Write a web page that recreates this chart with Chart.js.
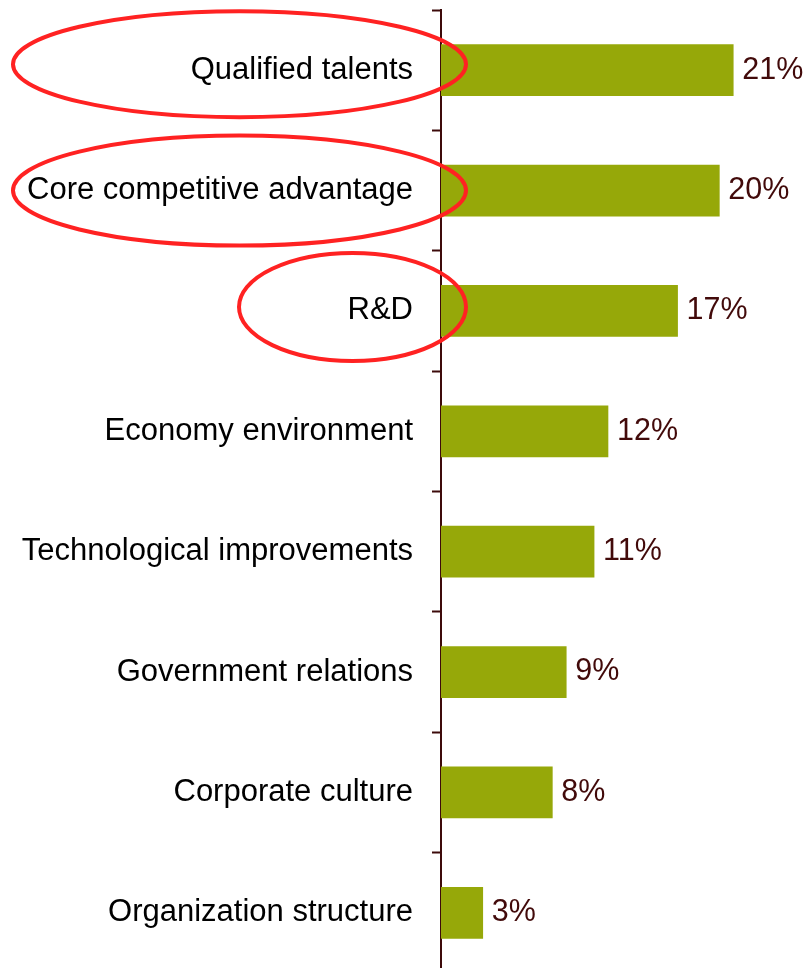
<!DOCTYPE html>
<html>
<head>
<meta charset="utf-8">
<script src="https://cdn.jsdelivr.net/npm/chart.js@4"></script>
<style>
  html, body { margin: 0; padding: 0; background: #ffffff; overflow: hidden; }
  #wrap { position: relative; width: 807px; height: 973px; }
</style>
</head>
<body>
<div id="wrap"><canvas id="chart"></canvas></div>
<script>
// Factors and the share of respondents naming each one (%)
const categories = [
  'Qualified talents',
  'Core competitive advantage',
  'R&D',
  'Economy environment',
  'Technological improvements',
  'Government relations',
  'Corporate culture',
  'Organization structure'
];
const shares = [21, 20, 17, 12, 11, 9, 8, 3];
const valueLabels = ['21%', '20%', '17%', '12%', '11%', '9%', '8%', '3%'];

// Red rings drawn around the top three factors
const highlightRings = [
  { category: 0, left: 13, dy: -6, ry: 53 },
  { category: 1, left: 13, dy: 0, ry: 55 },
  { category: 2, left: 239, dy: -4, ry: 54 }
];

const FONT = '"Liberation Sans", Arial, sans-serif';
const AXIS_COLOR = '#3d0a0a';
const BAR_COLOR = '#96a809';
const VALUE_COLOR = '#420a0a';

const valueLabelPlugin = {
  id: 'valueLabels',
  afterDatasetsDraw(chart) {
    const ctx = chart.ctx;
    const meta = chart.getDatasetMeta(0);
    ctx.save();
    ctx.font = '30.5px ' + FONT;
    ctx.fillStyle = VALUE_COLOR;
    ctx.textAlign = 'left';
    ctx.textBaseline = 'middle';
    meta.data.forEach((bar, i) => {
      ctx.fillText(valueLabels[i], bar.x + 9, bar.y);
    });
    ctx.restore();
  }
};

const ringPlugin = {
  id: 'highlightRings',
  afterDraw(chart) {
    const ctx = chart.ctx;
    const yScale = chart.scales.y;
    const axisX = chart.chartArea.left;
    ctx.save();
    ctx.strokeStyle = '#ff2222';
    ctx.lineWidth = 4;
    highlightRings.forEach(r => {
      const right = axisX + 25;
      const cx = (r.left + right) / 2;
      const rx = (right - r.left) / 2;
      const cy = yScale.getPixelForValue(r.category) + r.dy;
      ctx.beginPath();
      ctx.ellipse(cx, cy, rx, r.ry, 0, 0, Math.PI * 2);
      ctx.stroke();
    });
    ctx.restore();
  }
};

new Chart(document.getElementById('chart'), {
  type: 'bar',
  data: {
    labels: categories,
    datasets: [{
      data: shares,
      backgroundColor: BAR_COLOR,
      borderWidth: 0,
      barThickness: 51
    }]
  },
  options: {
    indexAxis: 'y',
    responsive: true,
    maintainAspectRatio: false,
    animation: false,
    layout: { padding: { top: 10, right: 0, bottom: 0, left: 0 } },
    plugins: {
      legend: { display: false },
      tooltip: { enabled: false }
    },
    scales: {
      x: {
        display: false,
        min: 0,
        max: 26.3
      },
      y: {
        afterFit(scale) {
          scale.width = 441;
          scale.paddingTop = 0;
          scale.paddingBottom = 0;
        },
        grid: {
          offset: true,
          drawOnChartArea: false,
          drawTicks: true,
          tickLength: 9,
          tickWidth: 2,
          color: AXIS_COLOR
        },
        border: { display: true, color: AXIS_COLOR, width: 2 },
        ticks: {
          color: '#000000',
          padding: 19,
          font: { family: FONT, size: 31 }
        }
      }
    }
  },
  plugins: [valueLabelPlugin, ringPlugin]
});
</script>
</body>
</html>
